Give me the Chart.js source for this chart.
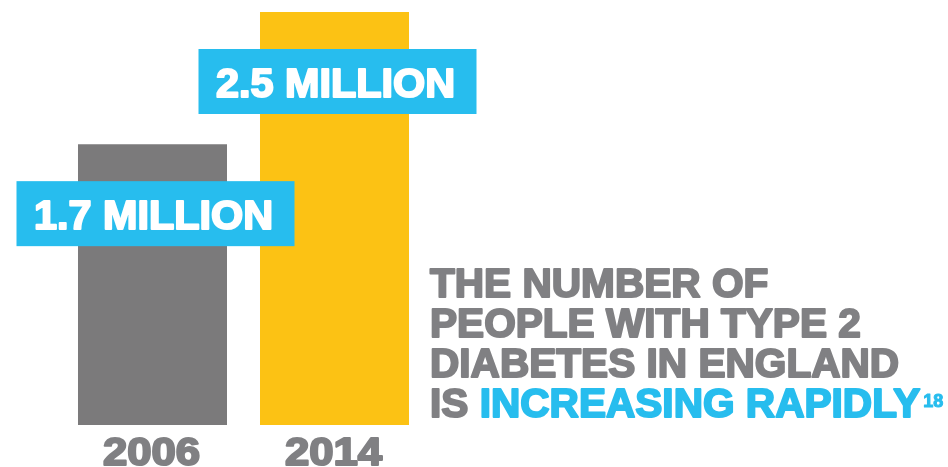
<!DOCTYPE html>
<html>
<head>
<meta charset="utf-8">
<script src="https://cdn.jsdelivr.net/npm/chart.js@4/dist/chart.umd.min.js"></script>
<style>
  html, body { margin: 0; padding: 0; background: #fff; }
  #wrap { width: 948px; height: 467px; }
</style>
</head>
<body>
<div id="wrap"><canvas id="chart" width="948" height="467"></canvas></div>
<script>
var years = ['2006', '2014'];
var peopleMillions = [1.7, 2.5];
var barColors = ['#7b7a7b', '#fcc214'];
var headline = ['THE NUMBER OF', 'PEOPLE WITH TYPE 2', 'DIABETES IN ENGLAND'];
var lastLineGray = 'IS ';
var lastLineBlue = 'INCREASING RAPIDLY';
var footnote = '18';

var blue = '#27bdee';
var gray = '#808083';
var FONT = "'Liberation Sans', Arial, sans-serif";

// bold text with a stroke round it to get closer to a black weight
function heavyText(ctx, text, x, y, size, color, stretch, stroke) {
    ctx.save();
    ctx.font = 'bold ' + size + 'px ' + FONT;
    ctx.fillStyle = color;
    ctx.strokeStyle = color;
    ctx.lineWidth = stroke === undefined ? 2 : stroke;
    ctx.lineJoin = 'round';
    ctx.translate(x, y);
    ctx.scale(stretch, 1);
    ctx.fillText(text, 0, 0);
    ctx.strokeText(text, 0, 0);
    var w = ctx.measureText(text).width * stretch;
    ctx.restore();
    return w;
}

var labelPlugin = {
    id: 'labels',
    afterDatasetsDraw: function(chart) {
        var ctx = chart.ctx;
        var meta = chart.getDatasetMeta(0);
        var values = chart.data.datasets[0].data;

        meta.data.forEach(function(bar, i) {
            // blue value tag hanging over the top of each bar
            var boxW = 278, boxH = 65;
            var boxX = bar.x + 3 - boxW / 2;
            var boxY = bar.y + 37;
            ctx.fillStyle = blue;
            ctx.fillRect(boxX, boxY, boxW, boxH);

            var txt = values[i].toFixed(1) + ' MILLION';
            ctx.font = 'bold 40px ' + FONT;
            var w = ctx.measureText(txt).width * 1.035;
            heavyText(ctx, txt, bar.x + 1 - w / 2, boxY + 48, 40, '#ffffff', 1.035);

            // year under the bar
            var yr = chart.data.labels[i];
            ctx.font = 'bold 38px ' + FONT;
            var yw = ctx.measureText(yr).width * 1.15;
            heavyText(ctx, yr, bar.x - 1 - yw / 2, 465, 38, gray, 1.15);
        });
    },
    afterDraw: function(chart) {
        var ctx = chart.ctx;
        var left = 430;
        headline.forEach(function(line, i) {
            heavyText(ctx, line, left, 297 + i * 40, 40, gray, 1.015);
        });
        var y = 297 + headline.length * 40;
        var x = left + heavyText(ctx, lastLineGray, left, y, 40, gray, 1.015);
        x += heavyText(ctx, lastLineBlue, x, y, 40, blue, 1.015);
        heavyText(ctx, footnote, x + 3, y - 10, 18, blue, 1.0, 1);
    }
};

new Chart(document.getElementById('chart'), {
    type: 'bar',
    data: {
        labels: years,
        datasets: [{
            data: peopleMillions,
            backgroundColor: barColors,
            borderWidth: 0,
            barPercentage: 1,
            categoryPercentage: 0.8187
        }]
    },
    options: {
        responsive: false,
        animation: false,
        layout: { padding: { left: 61.5, right: 522.5, top: 12, bottom: 42 } },
        plugins: { legend: { display: false }, tooltip: { enabled: false } },
        scales: {
            x: { display: false },
            y: { display: false, min: 0, max: 2.5 }
        }
    },
    plugins: [labelPlugin]
});
</script>
</body>
</html>
